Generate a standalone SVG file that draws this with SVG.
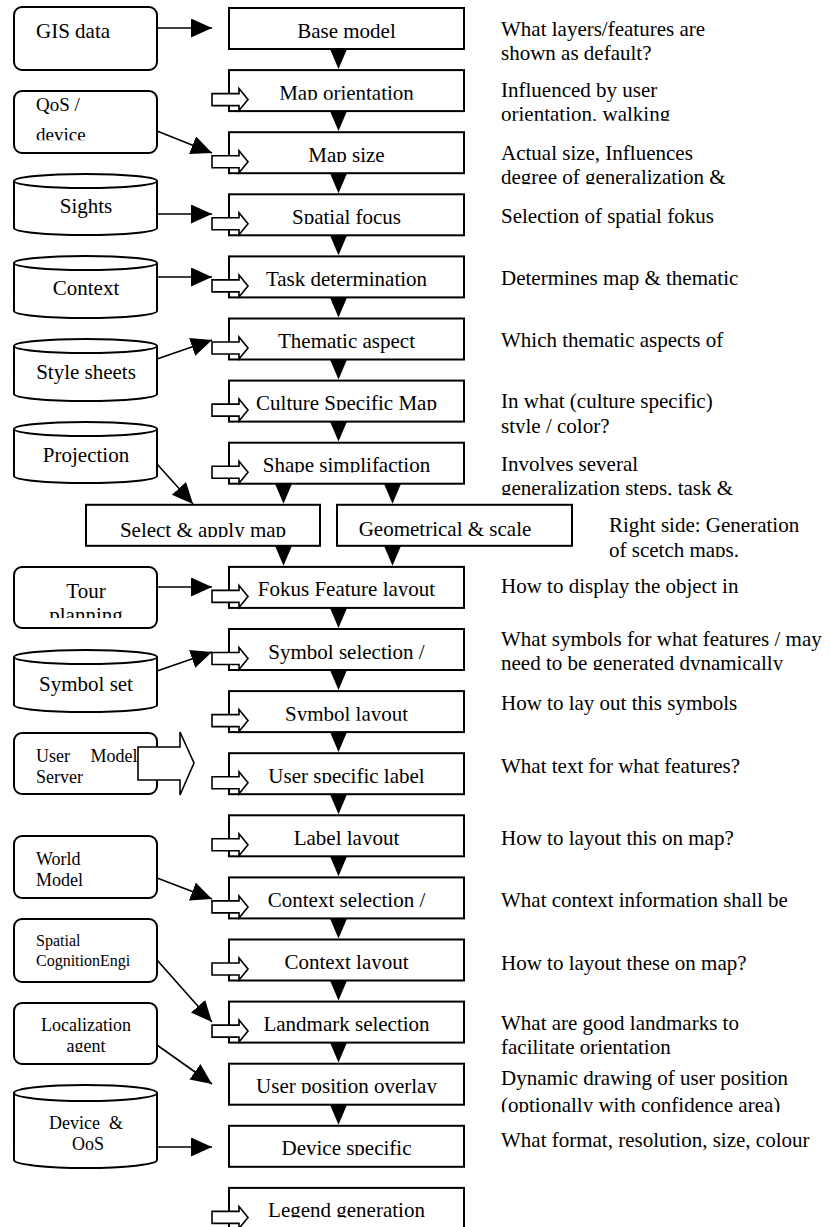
<svg xmlns="http://www.w3.org/2000/svg" width="830" height="1227" viewBox="0 0 830 1227" font-family="'Liberation Serif', 'Times New Roman', 'DejaVu Serif', serif">
<style>
text{font-family:'Liberation Serif','Times New Roman','DejaVu Serif',serif;font-size:21px;fill:#000}
.c{text-anchor:middle}
.f19{font-size:19px}
.f18{font-size:18px}
.f16{font-size:16px}
.box{fill:#fff;stroke:#000;stroke-width:2}
.src{fill:#fff;stroke:#000;stroke-width:2}
.ha{fill:#fff;stroke:#000;stroke-width:1.6}
.tri{fill:#000}
.ln{fill:none;stroke:#000;stroke-width:1.6;marker-end:url(#ah)}
.cb{clip-path:url(#cb)}
</style>
<defs>
<marker id="ah" markerUnits="userSpaceOnUse" markerWidth="22" markerHeight="20" refX="21" refY="9.5" orient="auto"><path d="M0,0 L21,9.5 L0,19 z" fill="#000"/></marker>
<clipPath id="cb" clipPathUnits="objectBoundingBox"><rect x="-0.05" y="-0.2" width="1.1" height="1.0"/></clipPath>
<clipPath id="cplan"><rect x="14" y="560" width="143" height="58"/></clipPath>
</defs>

<!-- main process boxes -->
<g id="n-base"><rect class="box" x="229" y="8" width="235" height="41"/><text class="c" x="346.5" y="37.5">Base model</text></g>
<g id="n-orient"><rect class="box" x="229" y="70.1" width="235" height="41"/><text class="c cb" x="346.5" y="99.6">Map orientation</text></g>
<g id="n-size"><rect class="box" x="229" y="132.2" width="235" height="41"/><text class="c cb" x="346.5" y="161.7">Map size</text></g>
<g id="n-focus"><rect class="box" x="229" y="194.3" width="235" height="41"/><text class="c cb" x="346.5" y="223.8">Spatial focus</text></g>
<g id="n-task"><rect class="box" x="229" y="256.4" width="235" height="41"/><text class="c" x="346.5" y="285.9">Task determination</text></g>
<g id="n-thematic"><rect class="box" x="229" y="318.5" width="235" height="41"/><text class="c" x="346.5" y="348">Thematic aspect</text></g>
<g id="n-culture"><rect class="box" x="229" y="380.6" width="235" height="41"/><text class="c cb" x="346.5" y="410.1">Culture Specific Map</text></g>
<g id="n-shape"><rect class="box" x="229" y="442.7" width="235" height="41"/><text class="c cb" x="346.5" y="472.2">Shape simplifaction</text></g>
<g id="n-select"><rect class="box" x="86" y="504.8" width="234" height="41"/><text class="c cb" x="203" y="537">Select &amp; apply map</text></g>
<g id="n-geom"><rect class="box" x="337" y="504.8" width="235" height="41"/><text class="c" x="445" y="536">Geometrical &amp; scale</text></g>
<g id="n-fokus"><rect class="box" x="229" y="566.9" width="235" height="41"/><text class="c cb" x="346.5" y="596.4">Fokus Feature layout</text></g>
<g id="n-symsel"><rect class="box" x="229" y="629" width="235" height="41"/><text class="c" x="346.5" y="658.5">Symbol selection /</text></g>
<g id="n-symlay"><rect class="box" x="229" y="691.1" width="235" height="41"/><text class="c cb" x="346.5" y="720.6">Symbol layout</text></g>
<g id="n-userlabel"><rect class="box" x="229" y="753.2" width="235" height="41"/><text class="c cb" x="346.5" y="782.7">User specific label</text></g>
<g id="n-labellay"><rect class="box" x="229" y="815.3" width="235" height="41"/><text class="c cb" x="346.5" y="844.8">Label layout</text></g>
<g id="n-ctxsel"><rect class="box" x="229" y="877.4" width="235" height="41"/><text class="c" x="346.5" y="906.9">Context selection /</text></g>
<g id="n-ctxlay"><rect class="box" x="229" y="939.5" width="235" height="41"/><text class="c cb" x="346.5" y="969">Context layout</text></g>
<g id="n-landmark"><rect class="box" x="229" y="1001.6" width="235" height="41"/><text class="c" x="346.5" y="1031.1">Landmark selection</text></g>
<g id="n-userpos"><rect class="box" x="229" y="1063.7" width="235" height="41"/><text class="c cb" x="346.5" y="1093.2">User position overlay</text></g>
<g id="n-device"><rect class="box" x="229" y="1125.8" width="235" height="41"/><text class="c cb" x="346.5" y="1155.3">Device specific</text></g>
<g id="n-legend"><rect class="box" x="229" y="1187.9" width="235" height="41"/><text class="c cb" x="346.5" y="1217.4">Legend generation</text></g>

<!-- source nodes -->
<g id="s-gis"><rect class="src" x="14" y="7" width="143" height="63" rx="8"/><text x="36" y="38">GIS data</text></g>
<g id="s-qos"><rect class="src" x="14" y="91" width="143" height="62" rx="8"/><text class="f19" x="36" y="111">QoS /</text><text class="f19 cb" x="36" y="140.5">device</text></g>
<g id="s-sights"><path class="src" d="M14,181 A71.5,7 0 0 1 157,181 V228 A71.5,7 0 0 1 14,228 Z M14,181 A71.5,7 0 0 0 157,181"/><text class="c" x="86" y="213">Sights</text></g>
<g id="s-context"><path class="src" d="M14,263 A71.5,7 0 0 1 157,263 V311 A71.5,7 0 0 1 14,311 Z M14,263 A71.5,7 0 0 0 157,263"/><text class="c" x="86" y="295">Context</text></g>
<g id="s-style"><path class="src" d="M14,346 A71.5,7 0 0 1 157,346 V394 A71.5,7 0 0 1 14,394 Z M14,346 A71.5,7 0 0 0 157,346"/><text class="c" x="86" y="379">Style sheets</text></g>
<g id="s-proj"><path class="src" d="M14,429 A71.5,7 0 0 1 157,429 V476 A71.5,7 0 0 1 14,476 Z M14,429 A71.5,7 0 0 0 157,429"/><text class="c" x="86" y="462">Projection</text></g>
<g id="s-tour"><rect class="src" x="14" y="567" width="143" height="61" rx="8"/><text class="c" x="86" y="598">Tour</text><text class="c" x="86" y="622" clip-path="url(#cplan)">planning</text></g>
<g id="s-symset"><path class="src" d="M14,657 A71.5,7 0 0 1 157,657 V705 A71.5,7 0 0 1 14,705 Z M14,657 A71.5,7 0 0 0 157,657"/><text class="c" x="86" y="691">Symbol set</text></g>
<g id="s-usermodel"><rect class="src" x="14" y="733" width="143" height="61" rx="8"/><text class="f18" x="36" y="762" word-spacing="16">User Model</text><text class="f18 cb" x="36" y="783">Server</text></g>
<g id="s-world"><rect class="src" x="14" y="836" width="143" height="62" rx="8"/><text class="f18" x="36" y="865">World</text><text class="f18" x="36" y="886">Model</text></g>
<g id="s-spatial"><rect class="src" x="14" y="919" width="143" height="63" rx="8"/><text class="f16" x="36" y="946">Spatial</text><text class="f16" x="36" y="966">CognitionEngi</text></g>
<g id="s-local"><rect class="src" x="14" y="1003" width="143" height="61" rx="8"/><text class="f18 c" x="86" y="1031">Localization</text><text class="f18 c cb" x="86" y="1052">agent</text></g>
<g id="s-devqos"><path class="src" d="M14,1093 A71.5,8 0 0 1 157,1093 V1160 A71.5,8 0 0 1 14,1160 Z M14,1093 A71.5,8 0 0 0 157,1093"/><text class="f18 c" x="86" y="1129" xml:space="preserve">Device  &amp;</text><text class="f18 c cb" x="88" y="1150">QoS</text></g>

<!-- annotations -->
<g id="notes">
<text x="501" y="36">What layers/features are</text>
<text class="cb" x="501" y="60">shown as default?</text>
<text x="501" y="97">Influenced by user</text>
<text class="cb" x="501" y="120.5">orientation, walking</text>
<text x="501" y="160">Actual size, Influences</text>
<text class="cb" x="501" y="184">degree of generalization &amp;</text>
<text x="501" y="223">Selection of spatial fokus</text>
<text x="501" y="285">Determines map &amp; thematic</text>
<text x="501" y="347">Which thematic aspects of</text>
<text x="501" y="408">In what (culture specific)</text>
<text class="cb" x="501" y="433">style / color?</text>
<text x="501" y="471">Involves several</text>
<text class="cb" x="501" y="495">generalization steps, task &amp;</text>
<text x="609" y="532">Right side: Generation</text>
<text class="cb" x="609" y="557">of scetch maps.</text>
<text x="501" y="593">How to display the object in</text>
<text x="501" y="646">What symbols for what features / may</text>
<text class="cb" x="501" y="670">need to be generated dynamically</text>
<text x="501" y="710">How to lay out this symbols</text>
<text x="501" y="773">What text for what features?</text>
<text x="501" y="845">How to layout this on map?</text>
<text x="501" y="907">What context information shall be</text>
<text x="501" y="970">How to layout these on map?</text>
<text x="501" y="1030">What are good landmarks to</text>
<text class="cb" x="501" y="1054">facilitate orientation</text>
<text x="501" y="1085">Dynamic drawing of user position</text>
<text class="cb" x="501" y="1112">(optionally with confidence area)</text>
<text x="501" y="1147">What format, resolution, size, colour</text>
</g>

<!-- connectors -->
<g id="connectors">
<path class="tri" d="M330,49 H347 L338.5,69 Z"/>
<path class="tri" d="M330,111.1 H347 L338.5,131.1 Z"/>
<path class="tri" d="M330,173.2 H347 L338.5,193.2 Z"/>
<path class="tri" d="M330,235.3 H347 L338.5,255.3 Z"/>
<path class="tri" d="M330,297.4 H347 L338.5,317.4 Z"/>
<path class="tri" d="M330,359.5 H347 L338.5,379.5 Z"/>
<path class="tri" d="M330,421.6 H347 L338.5,441.6 Z"/>
<path class="tri" d="M275,483.7 H292 L283.5,503.7 Z"/>
<path class="tri" d="M384,483.7 H401 L392.5,503.7 Z"/>
<path class="tri" d="M275,545.8 H292 L283.5,565.8 Z"/>
<path class="tri" d="M384,545.8 H401 L392.5,565.8 Z"/>
<path class="tri" d="M330,607.9 H347 L338.5,627.9 Z"/>
<path class="tri" d="M330,670 H347 L338.5,690 Z"/>
<path class="tri" d="M330,732.1 H347 L338.5,752.1 Z"/>
<path class="tri" d="M330,794.2 H347 L338.5,814.2 Z"/>
<path class="tri" d="M330,856.3 H347 L338.5,876.3 Z"/>
<path class="tri" d="M330,918.4 H347 L338.5,938.4 Z"/>
<path class="tri" d="M330,980.5 H347 L338.5,1000.5 Z"/>
<path class="tri" d="M330,1042.6 H347 L338.5,1062.6 Z"/>
<path class="tri" d="M330,1104.7 H347 L338.5,1124.7 Z"/>

<line class="ln" x1="157" y1="28" x2="212" y2="28"/>
<line class="ln" x1="157" y1="131" x2="212" y2="153"/>
<line class="ln" x1="157" y1="214" x2="212" y2="214"/>
<line class="ln" x1="157" y1="277" x2="212" y2="277"/>
<line class="ln" x1="157" y1="359" x2="212" y2="340"/>
<line class="ln" x1="157" y1="464" x2="193" y2="504"/>
<line class="ln" x1="157" y1="587" x2="212" y2="587"/>
<line class="ln" x1="157" y1="671" x2="212" y2="652"/>
<line class="ln" x1="157" y1="878" x2="212" y2="899"/>
<line class="ln" x1="157" y1="960" x2="212" y2="1022"/>
<line class="ln" x1="157" y1="1045" x2="212" y2="1084"/>
<line class="ln" x1="157" y1="1147" x2="212" y2="1147"/>

<path class="ha" d="M138,747 H180 V732 L194,763 L180,795 V780 H138 Z"/>

<g id="hollow">
<path class="ha" d="M212,93.6 H239 V88.6 L248,99.6 L239,110.6 V105.6 H212 Z"/>
<path class="ha" d="M212,155.7 H239 V150.7 L248,161.7 L239,172.7 V167.7 H212 Z"/>
<path class="ha" d="M212,217.8 H239 V212.8 L248,223.8 L239,234.8 V229.8 H212 Z"/>
<path class="ha" d="M212,279.9 H239 V274.9 L248,285.9 L239,296.9 V291.9 H212 Z"/>
<path class="ha" d="M212,342 H239 V337 L248,348 L239,359 V354 H212 Z"/>
<path class="ha" d="M212,404.1 H239 V399.1 L248,410.1 L239,421.1 V416.1 H212 Z"/>
<path class="ha" d="M212,466.2 H239 V461.2 L248,472.2 L239,483.2 V478.2 H212 Z"/>
<path class="ha" d="M212,590.4 H239 V585.4 L248,596.4 L239,607.4 V602.4 H212 Z"/>
<path class="ha" d="M212,652.5 H239 V647.5 L248,658.5 L239,669.5 V664.5 H212 Z"/>
<path class="ha" d="M212,714.6 H239 V709.6 L248,720.6 L239,731.6 V726.6 H212 Z"/>
<path class="ha" d="M212,776.7 H239 V771.7 L248,782.7 L239,793.7 V788.7 H212 Z"/>
<path class="ha" d="M212,838.8 H239 V833.8 L248,844.8 L239,855.8 V850.8 H212 Z"/>
<path class="ha" d="M212,900.9 H239 V895.9 L248,906.9 L239,917.9 V912.9 H212 Z"/>
<path class="ha" d="M212,963 H239 V958 L248,969 L239,980 V975 H212 Z"/>
<path class="ha" d="M212,1025.1 H239 V1020.1 L248,1031.1 L239,1042.1 V1037.1 H212 Z"/>
<path class="ha" d="M212,1211.4 H239 V1206.4 L248,1217.4 L239,1228.4 V1223.4 H212 Z"/>
</g>
</g>
</svg>
